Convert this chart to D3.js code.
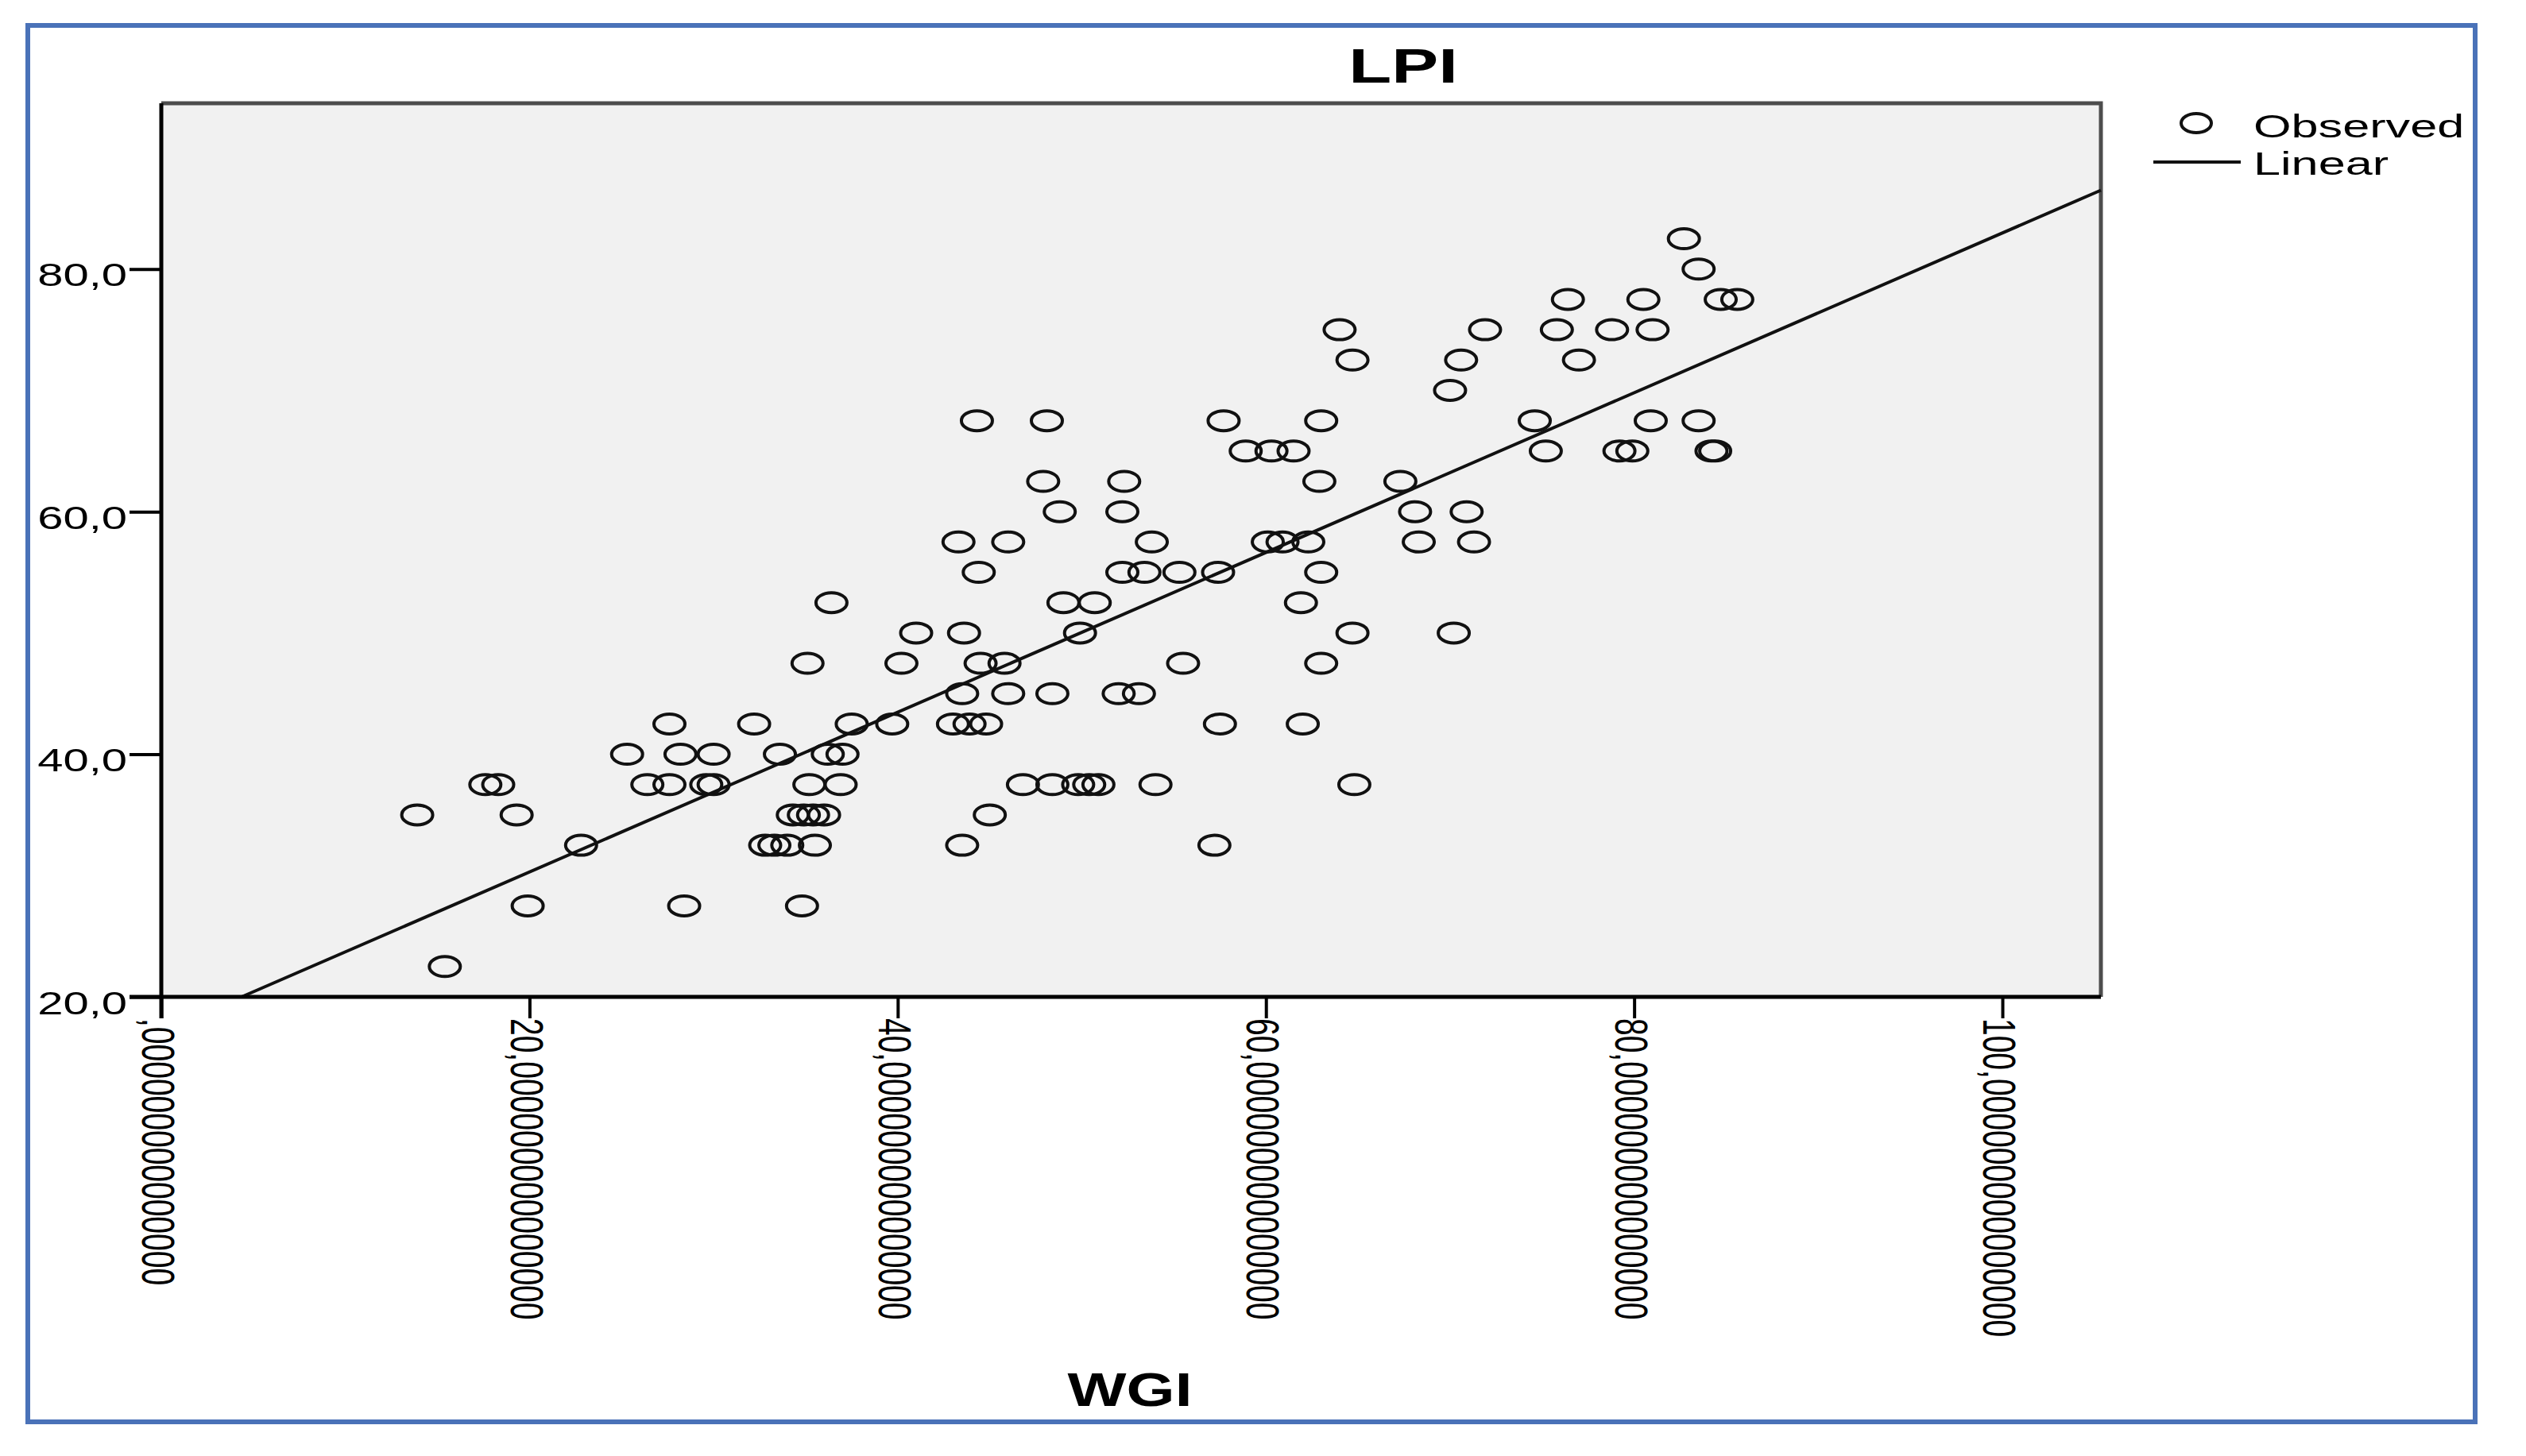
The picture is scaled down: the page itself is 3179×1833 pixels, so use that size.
<!DOCTYPE html>
<html><head><meta charset="utf-8">
<script src="https://cdn.jsdelivr.net/npm/d3@7"></script>
<style>
body{margin:0;background:#fff}
svg{display:block}
text{font-family:"Liberation Sans",Arial,sans-serif;fill:#000}
</style>
</head><body>
<svg id="chart" width="3179" height="1833"></svg>
<script>
// ---- data ----
const wgi = [
  82.7,
  83.5,
  76.4, 80.5, 84.7, 85.6,
  64.0, 71.9, 75.8, 78.8, 81.0,
  64.7, 70.6, 77.0,
  70.0,
  44.3, 48.1, 57.7, 63.0, 74.6, 80.9, 83.5,
  58.9, 60.3, 61.5, 75.2, 79.2, 79.9, 84.2, 84.4,
  47.9, 52.3, 62.9, 67.3,
  48.8, 52.2, 68.1, 70.9,
  43.3, 46.0, 53.8, 60.1, 60.9, 62.3, 68.3, 71.3,
  44.4, 52.2, 53.4, 55.3, 57.4, 63.0,
  36.4, 49.0, 50.7, 61.9,
  41.0, 43.6, 49.9, 64.7, 70.2,
  35.1, 40.2, 44.5, 45.8, 55.5, 63.0,
  43.5, 46.0, 48.4, 52.0, 53.1,
  27.6, 32.2, 37.5, 39.7, 43.0, 43.9, 44.8, 57.5, 62.0,
  25.3, 28.2, 30.0, 33.6, 36.2, 37.0,
  17.6, 18.3, 26.4, 27.6, 29.6, 30.0, 35.2, 36.9, 46.8, 48.4, 49.8, 50.4, 50.9, 54.0, 64.8,
  13.9, 19.3, 34.3, 34.9, 35.4, 36.0, 45.0,
  22.8, 32.8, 33.3, 34.0, 35.5, 43.5, 57.2,
  19.9, 28.4, 34.8,
  15.4
];
const lpi = [
  82.5,
  80,
  77.5, 77.5, 77.5, 77.5,
  75, 75, 75, 75, 75,
  72.5, 72.5, 72.5,
  70,
  67.5, 67.5, 67.5, 67.5, 67.5, 67.5, 67.5,
  65, 65, 65, 65, 65, 65, 65, 65,
  62.5, 62.5, 62.5, 62.5,
  60, 60, 60, 60,
  57.5, 57.5, 57.5, 57.5, 57.5, 57.5, 57.5, 57.5,
  55, 55, 55, 55, 55, 55,
  52.5, 52.5, 52.5, 52.5,
  50, 50, 50, 50, 50,
  47.5, 47.5, 47.5, 47.5, 47.5, 47.5,
  45, 45, 45, 45, 45,
  42.5, 42.5, 42.5, 42.5, 42.5, 42.5, 42.5, 42.5, 42.5,
  40, 40, 40, 40, 40, 40,
  37.5, 37.5, 37.5, 37.5, 37.5, 37.5, 37.5, 37.5, 37.5, 37.5, 37.5, 37.5, 37.5, 37.5, 37.5,
  35, 35, 35, 35, 35, 35, 35,
  32.5, 32.5, 32.5, 32.5, 32.5, 32.5, 32.5,
  27.5, 27.5, 27.5,
  22.5
];
// fitted linear line, endpoints
const fitX = [4.36, 105.35];
const fitY = [20, 86.5];

const xTickValues = [0, 20, 40, 60, 80, 100];
const xTickLabels = [",000000000000000", "20,000000000000000", "40,000000000000000",
                     "60,000000000000000", "80,000000000000000", "100,000000000000000"];
const yTickValues = [20, 40, 60, 80];
const yTickLabels = ["20,0", "40,0", "60,0", "80,0"];
const titleText = "LPI";
const xTitle = "WGI";
const legendLabels = ["Observed", "Linear"];

// ---- layout ----
const plot = {left: 203, top: 130, right: 2644, bottom: 1255};
const SX = 1.45; // horizontal stretch of the original picture's text
const svg = d3.select("#chart");

const x = d3.scaleLinear().domain([0, 105.35]).range([plot.left, plot.right]);
const y = d3.scaleLinear().domain([20, 93.67]).range([plot.bottom, plot.top]);

// outer blue frame
svg.append("rect").attr("x", 35).attr("y", 32).attr("width", 3080).attr("height", 1758)
  .attr("fill", "none").attr("stroke", "#4a72b8").attr("stroke-width", 6);

// plot background
svg.append("rect").attr("x", plot.left).attr("y", plot.top)
  .attr("width", plot.right - plot.left).attr("height", plot.bottom - plot.top)
  .attr("fill", "#f1f1f1");
// top and right border (dark gray)
svg.append("path")
  .attr("d", `M${plot.left},${plot.top}H${plot.right}V${plot.bottom}`)
  .attr("fill", "none").attr("stroke", "#4d4d4d").attr("stroke-width", 5);

// regression line
svg.append("line")
  .attr("x1", x(fitX[0])).attr("y1", y(fitY[0]))
  .attr("x2", x(fitX[1])).attr("y2", y(fitY[1]))
  .attr("stroke", "#111").attr("stroke-width", 4);

// observed points
svg.append("g").selectAll("ellipse").data(wgi.map((d, i) => [d, lpi[i]])).join("ellipse")
  .attr("cx", d => x(d[0])).attr("cy", d => y(d[1]))
  .attr("rx", 19.5).attr("ry", 12.5)
  .attr("fill", "none").attr("stroke", "#111").attr("stroke-width", 4);

// y axis
const yAxis = d3.axisLeft(y).tickValues(yTickValues).tickSize(40).tickSizeOuter(0)
  .tickFormat((d, i) => yTickLabels[i]);
const gy = svg.append("g").attr("transform", `translate(${plot.left},0)`).call(yAxis);
gy.select(".domain").attr("stroke", "#000").attr("stroke-width", 5)
  .attr("d", `M0,${plot.top}V${plot.bottom + 27}`);
gy.selectAll(".tick line").attr("stroke", "#000").attr("stroke-width", 4);
gy.selectAll(".tick text")
  .attr("x", null).attr("dy", null)
  .attr("text-anchor", "end")
  .attr("font-size", 40)
  .attr("transform", "translate(-43,21) scale(" + SX + ",1)");

// x axis
const xAxis = d3.axisBottom(x).tickValues(xTickValues).tickSize(27).tickSizeOuter(0)
  .tickFormat((d, i) => xTickLabels[i]);
const gx = svg.append("g").attr("transform", `translate(0,${plot.bottom})`).call(xAxis);
gx.select(".domain").attr("stroke", "#000").attr("stroke-width", 5)
  .attr("d", `M${plot.left - 40},0H${plot.right}`);
gx.selectAll(".tick line").attr("stroke", "#000").attr("stroke-width", 4);
gx.selectAll(".tick text")
  .attr("y", null)
  .attr("text-anchor", "start")
  .attr("font-size", 39)
  .attr("transform", "translate(-4,27) scale(" + SX + ",1) rotate(90)")
  .attr("dy", "0.36em");

// titles
svg.append("text").text(titleText)
  .attr("text-anchor", "middle").attr("font-weight", "bold").attr("font-size", 61)
  .attr("transform", `translate(1766,104) scale(${SX},1)`);
svg.append("text").text(xTitle)
  .attr("text-anchor", "middle").attr("font-weight", "bold").attr("font-size", 59)
  .attr("transform", `translate(1422,1770) scale(1.33,1)`);

// legend
const lg = svg.append("g");
lg.append("ellipse").attr("cx", 2764).attr("cy", 155).attr("rx", 19).attr("ry", 12)
  .attr("fill", "none").attr("stroke", "#111").attr("stroke-width", 4);
lg.append("line").attr("x1", 2710).attr("x2", 2820).attr("y1", 204).attr("y2", 204)
  .attr("stroke", "#111").attr("stroke-width", 4);
lg.append("text").text(legendLabels[0]).attr("font-size", 40)
  .attr("transform", `translate(2836,173) scale(${SX + 0.08},1)`);
lg.append("text").text(legendLabels[1]).attr("font-size", 40)
  .attr("transform", `translate(2836,220) scale(${SX + 0.08},1)`);
</script>
</body></html>
